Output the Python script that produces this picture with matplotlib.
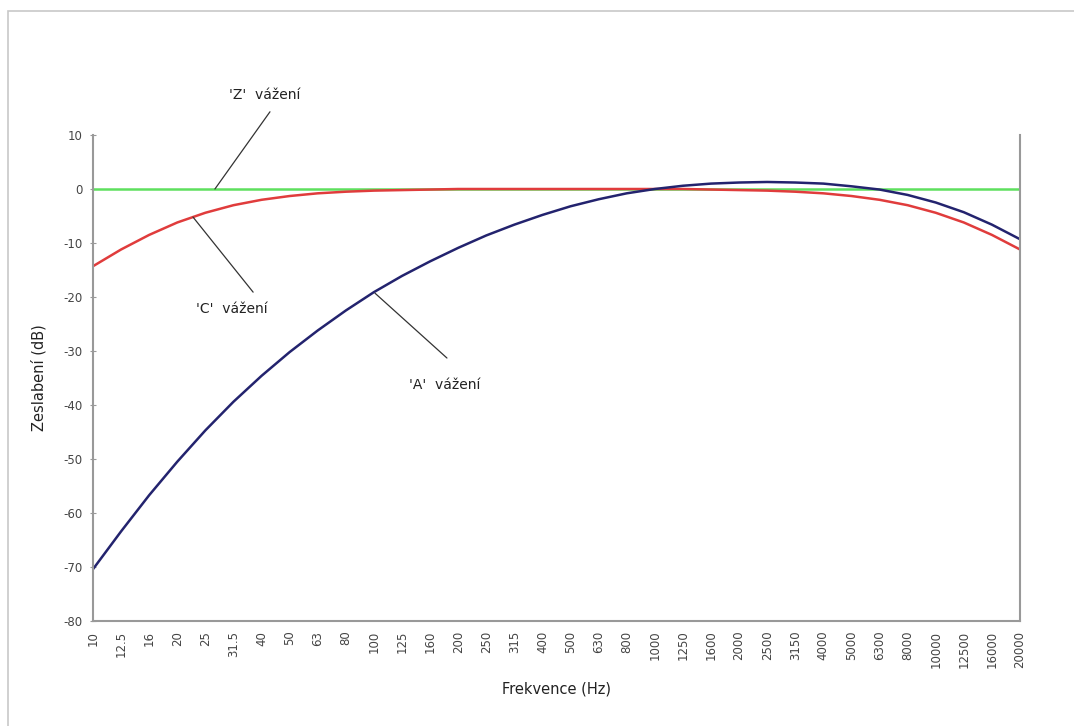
import numpy as np
import matplotlib.pyplot as plt
from matplotlib.patches import Rectangle

frekvence = ['10', '12.5', '16', '20', '25', '31.5', '40', '50', '63', '80', '100', '125',
             '160', '200', '250', '315', '400', '500', '630', '800', '1000', '1250', '1600',
             '2000', '2500', '3150', '4000', '5000', '6300', '8000', '10000', '12500',
             '16000', '20000']
a_vazeni = [-70.4, -63.4, -56.7, -50.5, -44.7, -39.4, -34.6, -30.2, -26.2, -22.5, -19.1,
            -16.1, -13.4, -10.9, -8.6, -6.6, -4.8, -3.2, -1.9, -0.8, 0.0, 0.6, 1.0, 1.2,
            1.3, 1.2, 1.0, 0.5, -0.1, -1.1, -2.5, -4.3, -6.6, -9.3]
c_vazeni = [-14.3, -11.2, -8.5, -6.2, -4.4, -3.0, -2.0, -1.3, -0.8, -0.5, -0.3, -0.2, -0.1,
            0.0, 0.0, 0.0, 0.0, 0.0, 0.0, 0.0, 0.0, 0.0, -0.1, -0.2, -0.3, -0.5, -0.8,
            -1.3, -2.0, -3.0, -4.4, -6.2, -8.5, -11.2]
z_vazeni = [0.0] * len(frekvence)

plt.rcParams['font.family'] = 'DejaVu Sans'
plt.rcParams['axes.unicode_minus'] = False
fig = plt.figure(figsize=(10.74, 7.26), dpi=100)
fig.patches.append(Rectangle((8 / 1074, -0.1), 1.2, 1.1 - 11 / 726, transform=fig.transFigure,
                             fill=False, edgecolor='#c8c8c8', linewidth=1.2))
ax = fig.add_axes([93 / 1074, 1 - 621 / 726, (1020 - 93) / 1074, (621 - 135) / 726])

x = np.arange(len(frekvence))
ax.plot(x, z_vazeni, color='#5ee05e', lw=1.8)
ax.plot(x, c_vazeni, color='#e03c3c', lw=1.8)
ax.plot(x, a_vazeni, color='#23236e', lw=1.8)

ax.set_xlim(0, len(frekvence) - 1)
ax.set_ylim(-80, 10)
ax.set_yticks(np.arange(-80, 11, 10))
ax.set_xticks(x)
ax.set_xticklabels(frekvence, rotation=90, fontsize=8.5, color='#444444')
ax.tick_params(axis='x', length=0, pad=7)
ax.tick_params(axis='y', length=5, direction='inout', color='#999999', labelsize=8.5,
               labelcolor='#444444', pad=5)
ax.spines['top'].set_visible(False)
for s in ['left', 'bottom', 'right']:
    ax.spines[s].set_color('#999999')
    ax.spines[s].set_linewidth(1.5)

ax.set_ylabel('Zeslabení (dB)', fontsize=10.5, color='#222222', labelpad=12)
ax.set_xlabel('Frekvence (Hz)', fontsize=10.5, color='#222222', labelpad=10)

# popisky krivek
popisky = [("'Z'  vážení", (6.12, 17.4), (4.34, 0), (6.3, 14.3)),
           ("'C'  vážení", (4.95, -22.2), (3.56, -5.2), (5.7, -19.1)),
           ("'A'  vážení", (12.53, -36.3), (10.04, -19.3), (12.6, -31.3))]
for text, pos, p1, p2 in popisky:
    ax.text(pos[0], pos[1], text, fontsize=10, color='#222222', ha='center', va='center',
            clip_on=False)
    ax.annotate('', xy=p1, xytext=p2, annotation_clip=False,
                arrowprops=dict(arrowstyle='-', color='#333333', lw=0.9, shrinkA=0, shrinkB=0))

plt.savefig('out.png', dpi=100)
